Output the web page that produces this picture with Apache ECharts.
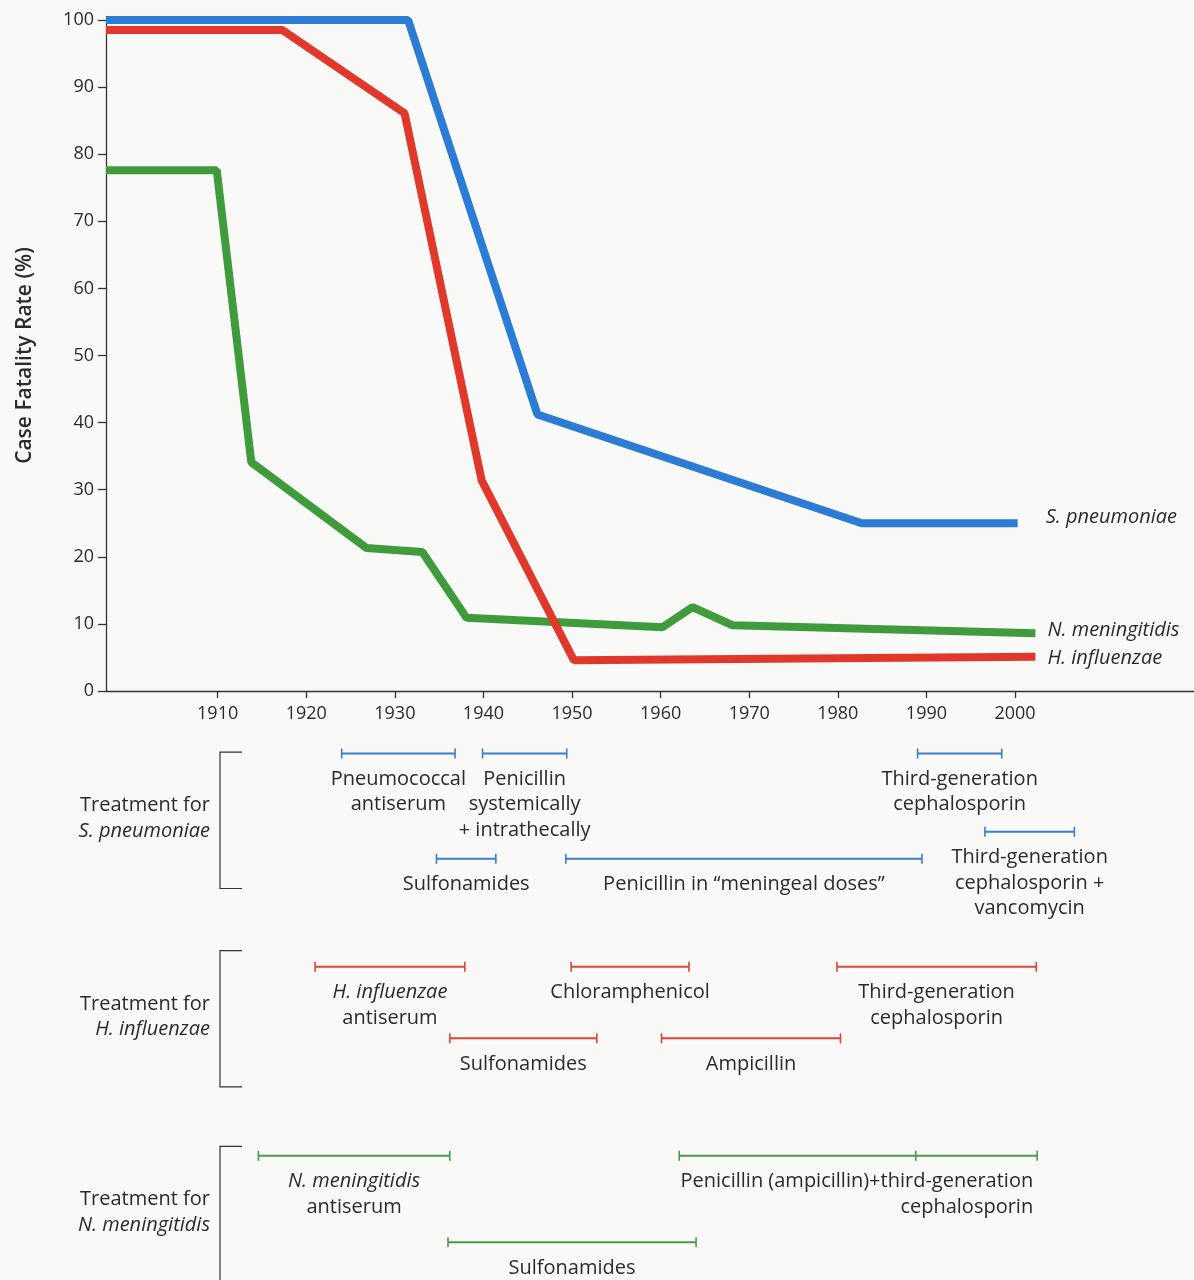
<!DOCTYPE html>
<html>
<head>
<meta charset="utf-8">
<title>Case fatality rate of bacterial meningitis</title>
<script src="https://cdn.jsdelivr.net/npm/echarts@6/dist/echarts.min.js"></script>
<style>
  html, body { margin: 0; padding: 0; background: #f9f9f7; }
  #chart { width: 1194px; height: 1280px; }
</style>
</head>
<body>
<div id="chart"></div>
<script>
// case fatality rate (%) by year
var spneumoniae = [[1897.4, 100], [1931.5, 100], [1946.1, 41.2], [1982.7, 25], [2000.3, 25]];
var hinfluenzae = [[1897.4, 98.5], [1917.3, 98.5], [1931.1, 86.1], [1939.8, 31.4], [1950.2, 4.6], [2002.3, 5.1]];
var nmeningitidis = [[1897.4, 77.6], [1909.9, 77.6], [1913.8, 34.1], [1926.8, 21.3], [1933.1, 20.7],
  [1938.1, 10.9], [1960.2, 9.5], [1963.6, 12.5], [1968.1, 9.8], [2002.3, 8.6]];

var yearTicks = [1910, 1920, 1930, 1940, 1950, 1960, 1970, 1980, 1990, 2000];

// treatment periods (years) and the row of the timeline they sit in
var spTreatments = [
  { label: 'Pneumococcal\nantiserum', from: 1924, to: 1936.8, row: 0.5 },
  { label: 'Penicillin\nsystemically\n+ intrathecally', from: 1939.9, to: 1949.4, row: 0.5 },
  { label: 'Third-generation\ncephalosporin', from: 1989, to: 1998.5, row: 0.5 },
  { label: 'Third-generation\ncephalosporin +\nvancomycin', from: 1996.6, to: 2006.7, row: 3.4 },
  { label: 'Sulfonamides', from: 1934.7, to: 1941.4, row: 4.4 },
  { label: 'Penicillin in \u201cmeningeal doses\u201d', from: 1949.3, to: 1989.5, row: 4.4 }
];
var hiTreatments = [
  { label: '{i|H. influenzae}\nantiserum', from: 1921, to: 1937.9, row: 8.4 },
  { label: 'Chloramphenicol', from: 1949.9, to: 1963.2, row: 8.4 },
  { label: 'Third-generation\ncephalosporin', from: 1979.9, to: 2002.4, row: 8.4 },
  { label: 'Sulfonamides', from: 1936.2, to: 1952.8, row: 11.05 },
  { label: 'Ampicillin', from: 1960.1, to: 1980.3, row: 11.05 }
];
var nmTreatments = [
  { label: '{i|N. meningitidis}\nantiserum', from: 1914.6, to: 1936.2, row: 15.4 },
  { label: 'Penicillin (ampicillin)+third-generation\ncephalosporin', from: 1962.1, to: 2002.5, split: 1988.8, row: 15.4 },
  { label: 'Sulfonamides', from: 1936, to: 1964, row: 18.6 }
];
var groups = [
  { label: 'Treatment for\n{i|S. pneumoniae}', top: 0.45, bottom: 5.5 },
  { label: 'Treatment for\n{i|H. influenzae}', top: 7.8, bottom: 12.85 },
  { label: 'Treatment for\n{i|N. meningitidis}', top: 15.05, bottom: 20.1 }
];

// labels whose lines are set flush right against the end of the bar
var flushRight = ['Penicillin (ampicillin)+third-generation\ncephalosporin'];

var FONT = '"Open Sans", "DejaVu Sans", sans-serif';
var INK = '#2b2b2b';
var BLUE = '#2c7bd4', RED = '#e0392c', GREEN = '#3f9b3b';
var TXT = 20;

var rich = {
  n: { fontFamily: FONT, fontSize: TXT, lineHeight: 25.5, color: INK },
  i: { fontFamily: FONT, fontSize: TXT, lineHeight: 25.5, fontStyle: 'italic', color: INK }
};

function richText(label) {
  return label.split('\n').map(function (s) {
    return s.charAt(0) === '{' ? s : '{n|' + s + '}';
  }).join('\n');
}

function curve(name, data, color, endOffset) {
  return {
    name: name,
    type: 'line',
    data: data,
    symbol: 'none',
    clip: false,
    silent: true,
    lineStyle: { color: color, width: 8, join: 'bevel', cap: 'butt' },
    endLabel: {
      show: true,
      formatter: name,
      distance: endOffset[0],
      offset: [0, endOffset[1]],
      fontFamily: FONT,
      fontSize: 20,
      fontStyle: 'italic',
      color: INK
    }
  };
}

function treatments(list, color) {
  return {
    type: 'custom',
    xAxisIndex: 1,
    yAxisIndex: 1,
    clip: false,
    silent: true,
    encode: { x: [0, 1], y: 2 },
    data: list.map(function (t) { return [t.from, t.to, t.row]; }),
    renderItem: function (params, api) {
      var t = list[params.dataIndex];
      var a = api.coord([api.value(0), api.value(2)]);
      var b = api.coord([api.value(1), api.value(2)]);
      var ln = { stroke: color, lineWidth: 2 };
      var cap = { stroke: color, lineWidth: 1.6 };
      var kids = [
        { type: 'line', shape: { x1: a[0], y1: a[1], x2: b[0], y2: b[1] }, style: ln },
        { type: 'line', shape: { x1: a[0], y1: a[1] - 5, x2: a[0], y2: a[1] + 5 }, style: cap },
        { type: 'line', shape: { x1: b[0], y1: b[1] - 5, x2: b[0], y2: b[1] + 5 }, style: cap }
      ];
      if (t.split != null) {
        var m = api.coord([t.split, api.value(2)]);
        kids.push({ type: 'line', shape: { x1: m[0], y1: m[1] - 5, x2: m[0], y2: m[1] + 5 }, style: cap });
      }
      var right = flushRight.indexOf(t.label) >= 0;
      kids.push({
        type: 'text',
        x: right ? b[0] - 4 : (a[0] + b[0]) / 2,
        y: a[1] + 13,
        style: {
          text: richText(t.label),
          align: right ? 'right' : 'center',
          verticalAlign: 'top',
          fontFamily: FONT,
          fontSize: TXT,
          lineHeight: 25.5,
          fill: INK,
          rich: rich
        }
      });
      return { type: 'group', children: kids };
    }
  };
}

var chart = echarts.init(document.getElementById('chart'));
var option = {
  backgroundColor: '#f9f9f7',
  animation: false,
  grid: [
    { left: 106, right: 0, top: 20, bottom: 589 },
    { left: 106, right: 0, top: 740, height: 540 }
  ],
  xAxis: [
    {
      type: 'value',
      min: 1897.4,
      max: 2020.2,
      axisLine: { lineStyle: { color: '#333', width: 1.3 } },
      axisTick: { customValues: yearTicks, length: 7, lineStyle: { color: '#333', width: 1.3 } },
      axisLabel: {
        customValues: yearTicks,
        formatter: function (v) { return String(v); },
        margin: 14, fontFamily: FONT, fontSize: 18, color: INK
      },
      splitLine: { show: false }
    },
    { type: 'value', gridIndex: 1, min: 1897.4, max: 2020.2, show: false }
  ],
  yAxis: [
    {
      type: 'value',
      min: 0,
      max: 100,
      interval: 10,
      name: 'Case Fatality Rate (%)',
      nameLocation: 'middle',
      nameGap: 70,
      nameTextStyle: { fontFamily: FONT, fontSize: 21, fontWeight: 600, color: INK },
      axisLine: { show: true, lineStyle: { color: '#333', width: 1.3 } },
      axisTick: { show: true, length: 8, lineStyle: { color: '#333', width: 1.3 } },
      axisLabel: { margin: 12, fontFamily: FONT, fontSize: 18, color: INK },
      splitLine: { show: false }
    },
    { type: 'value', gridIndex: 1, min: 0, max: 20, inverse: true, show: false }
  ],
  series: [
    curve('N. meningitidis', nmeningitidis, GREEN, [12, -3]),
    curve('S. pneumoniae', spneumoniae, BLUE, [28, -6]),
    curve('H. influenzae', hinfluenzae, RED, [12, 2]),
    treatments(spTreatments, '#3b7fce'),
    treatments(hiTreatments, '#d8473a'),
    treatments(nmTreatments, '#4a9a4e'),
    {
      type: 'custom',
      xAxisIndex: 1,
      yAxisIndex: 1,
      clip: false,
      silent: true,
      encode: { x: 0, y: [0, 1] },
      data: groups.map(function (g) { return [g.top, g.bottom]; }),
      renderItem: function (params, api) {
        var g = groups[params.dataIndex];
        var top = api.coord([1900, api.value(0)])[1];
        var bot = api.coord([1900, api.value(1)])[1];
        var x = 220;
        var st = { stroke: '#333', lineWidth: 1.2, fill: null };
        return {
          type: 'group',
          children: [
            { type: 'polyline', shape: { points: [[x + 22, top], [x, top], [x, bot], [x + 22, bot]] }, style: st },
            {
              type: 'text',
              x: x - 10,
              y: (top + bot) / 2 - 2,
              style: {
                text: richText(g.label),
                align: 'right',
                verticalAlign: 'middle',
                fontFamily: FONT,
                fontSize: TXT,
                lineHeight: 25.5,
                fill: INK,
                rich: rich
              }
            }
          ]
        };
      }
    }
  ]
};
chart.setOption(option);
</script>
</body>
</html>
